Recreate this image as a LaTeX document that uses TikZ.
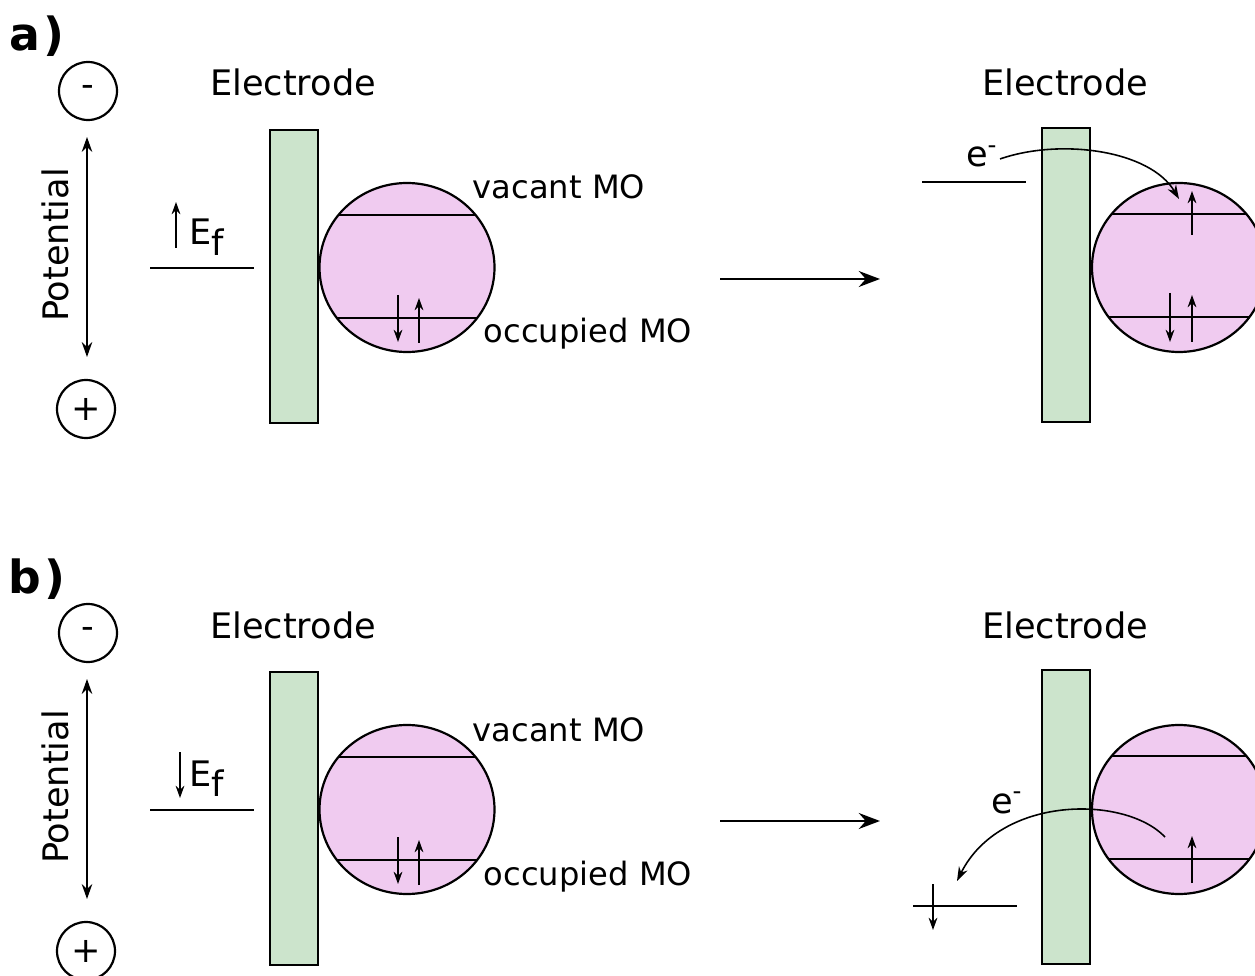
\documentclass[tikz,border=0pt]{standalone}
\usepackage{fontspec}
\setmainfont{DejaVu Sans}
\usetikzlibrary{arrows.meta}
\definecolor{electrodegreen}{RGB}{204,228,204}
\definecolor{orbitalpink}{RGB}{240,203,240}

\begin{document}
\begin{tikzpicture}[x=0.02cm, y=-0.02cm, line width=1.25pt,
    font=\fontsize{20}{24}\selectfont,
    electrode/.style={draw, fill=electrodegreen},
    lbl/.style={inner sep=0pt, anchor=base},
    molbl/.style={lbl, font=\fontsize{18.3}{22}\selectfont},
    pole/.style={draw, circle, inner sep=0pt, minimum size=1.16cm},
    spin/.style={-{Stealth[length=7pt,width=5pt]}, line width=0.9pt},
    potarrow/.style={{Stealth[length=8.5pt,width=6pt]}-{Stealth[length=8.5pt,width=6pt]}, line width=0.9pt},
    hop/.style={-{Stealth[length=8pt,width=5.5pt]}, line width=0.9pt},
    bigarrow/.style={-{Stealth[length=12pt,width=9pt]}, line width=1.6pt}]
    \useasboundingbox (0,0) rectangle (1255,976);
    \clip (0,0) rectangle (1255,976);

    \foreach \dy/\lab in {0/a, 542/b}{
    \begin{scope}[shift={(0,\dy)}]
        % tag and potential scale
        \node[lbl, font=\fontsize{26}{30}\selectfont\bfseries] (tag-\lab) at (37,51) {\lab\kern0.08em)};
        \node[pole] (minus-\lab) at (88,91) {\raisebox{-0.12em}{-}};
        \node[pole] (plus-\lab) at (86,409) {+};
        \node[rotate=90] (pot-\lab) at (55,245) {Potential};
        \coordinate (pot-top-\lab) at (87,137);
        \coordinate (pot-bot-\lab) at (87,357);
        \draw[potarrow] (pot-top-\lab) -- (pot-bot-\lab);

        % electrode and molecule before the transfer
        \draw[electrode] (270,130) rectangle (318,423);
        \node[lbl] (el-left-\lab) at (293,96) {Electrode};
        \coordinate (ef-l-\lab) at (150,268);
        \coordinate (ef-r-\lab) at (254,268);
        \draw (ef-l-\lab) -- (ef-r-\lab);

        \coordinate (mo-\lab) at (407,267.5);
        \fill[orbitalpink] (mo-\lab) ellipse [x radius=87.5, y radius=84.5];
        \begin{scope}
            \clip (mo-\lab) ellipse [x radius=87.5, y radius=84.5];
            \draw (300,215) -- (520,215) (300,318) -- (520,318);
        \end{scope}
        \draw (mo-\lab) ellipse [x radius=87.5, y radius=84.5];
        \coordinate (occ-dn-\lab) at (398,295);
        \coordinate (occ-dn-end-\lab) at (398,342);
        \coordinate (occ-up-\lab) at (419,343);
        \coordinate (occ-up-end-\lab) at (419,298);
        \draw[spin] (occ-dn-\lab) -- (occ-dn-end-\lab);
        \draw[spin] (occ-up-\lab) -- (occ-up-end-\lab);
        \node[molbl] (vac-\lab) at (559,199) {vacant MO};
        \node[molbl] (occ-\lab) at (588,343) {occupied MO};

        % transfer arrow
        \coordinate (go-\lab) at (720,279);
        \coordinate (go-end-\lab) at (880,279);
        \draw[bigarrow] (go-\lab) -- (go-end-\lab);

        % electrode and molecule after the transfer
        \draw[electrode] (1042,128) rectangle (1090,422);
        \node[lbl] (el-right-\lab) at (1065,96) {Electrode};
        \coordinate (mo2-\lab) at (1179,267.5);
        \fill[orbitalpink] (mo2-\lab) ellipse [x radius=87, y radius=84.5];
        \begin{scope}
            \clip (mo2-\lab) ellipse [x radius=87, y radius=84.5];
            \draw (1080,214) -- (1280,214) (1080,317) -- (1280,317);
        \end{scope}
        \draw (mo2-\lab) ellipse [x radius=87, y radius=84.5];
    \end{scope}
    }

    % a) oxidised electrode gives an electron
    \coordinate (efa-from) at (176,248);
    \coordinate (efa-to) at (176,202);
    \draw[spin] (efa-from) -- (efa-to);
    \node[lbl, anchor=base west] (efa) at (188,245) {E\raisebox{-0.3em}{f}};
    \coordinate (lvl-a-l) at (922,182);
    \coordinate (lvl-a-r) at (1026,182);
    \draw (lvl-a-l) -- (lvl-a-r);
    \node[lbl, anchor=base west] (ea) at (965,167) {e\textsuperscript{-}};
    \coordinate (hop-a) at (1000,159);
    \coordinate (hop-a-end) at (1179,199);
    \draw[hop] (hop-a) .. controls (1060,138) and (1150,150) .. (hop-a-end);
    \coordinate (va-from) at (1192,235);
    \coordinate (va-to) at (1192,191);
    \draw[spin] (va-from) -- (va-to);
    \coordinate (oa-dn) at (1170,293);
    \coordinate (oa-dn-end) at (1170,342);
    \coordinate (oa-up) at (1192,342);
    \coordinate (oa-up-end) at (1192,295);
    \draw[spin] (oa-dn) -- (oa-dn-end);
    \draw[spin] (oa-up) -- (oa-up-end);

    % b) electrode takes an electron
    \coordinate (efb-from) at (180,752);
    \coordinate (efb-to) at (180,798);
    \draw[spin] (efb-from) -- (efb-to);
    \node[lbl, anchor=base west] (efb) at (188,786) {E\raisebox{-0.3em}{f}};
    \coordinate (lvl-b-l) at (913,906);
    \coordinate (lvl-b-r) at (1017,906);
    \draw (lvl-b-l) -- (lvl-b-r);
    \coordinate (sb-from) at (933,884);
    \coordinate (sb-to) at (933,930);
    \draw[spin] (sb-from) -- (sb-to);
    \node[lbl, anchor=base west] (eb) at (990,813) {e\textsuperscript{-}};
    \coordinate (hop-b) at (1165,837);
    \coordinate (hop-b-end) at (957,881);
    \draw[hop] (hop-b) .. controls (1125,795) and (1000,795) .. (hop-b-end);
    \coordinate (ob-up) at (1192,883);
    \coordinate (ob-up-end) at (1192,836);
    \draw[spin] (ob-up) -- (ob-up-end);
\end{tikzpicture}
\end{document}
